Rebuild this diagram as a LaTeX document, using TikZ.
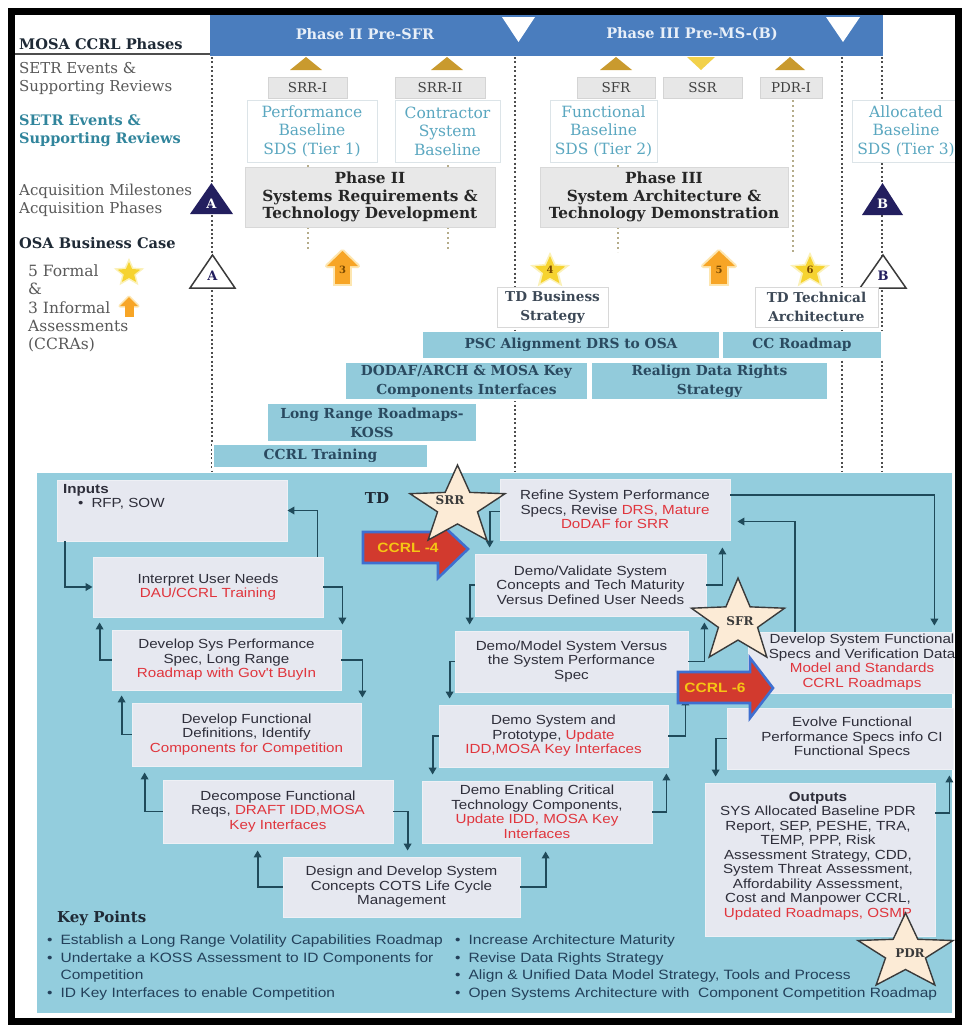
\documentclass[tikz,border=0pt]{standalone}
\usepackage{fontspec}
\setmainfont{DejaVu Serif}
\newfontfamily\sansf[FakeStretch=1.15]{Liberation Sans}
\usetikzlibrary{arrows.meta,calc}
\definecolor{hdrblue}{HTML}{4A7DBE}
\definecolor{hdrtext}{HTML}{E8EFF8}
\definecolor{gold}{HTML}{C99A2E}
\definecolor{ssryel}{HTML}{F2D14A}
\definecolor{gboxf}{HTML}{E7E7E7}
\definecolor{gboxd}{HTML}{D4D4D4}
\definecolor{gtext}{HTML}{404040}
\definecolor{sdst}{HTML}{5AA7C0}
\definecolor{sdsd}{HTML}{DCE4E8}
\definecolor{tealb}{HTML}{31859C}
\definecolor{labgray}{HTML}{595959}
\definecolor{ttl}{HTML}{1F2A36}
\definecolor{navy}{HTML}{231F5F}
\definecolor{phf}{HTML}{E8E8E8}
\definecolor{phd}{HTML}{D8D8D8}
\definecolor{phtext}{HTML}{262626}
\definecolor{tdd}{HTML}{D8D8D8}
\definecolor{tdtext}{HTML}{3C4856}
\definecolor{barf}{HTML}{92CBDB}
\definecolor{bartxt}{HTML}{2A4A60}
\definecolor{bigblue}{HTML}{93CDDD}
\definecolor{boxf}{HTML}{E6E8F0}
\definecolor{boxd}{HTML}{EEF0F5}
\definecolor{connc}{HTML}{1F4A5A}
\definecolor{redt}{HTML}{E0353D}
\definecolor{dtext}{HTML}{2E2E3A}
\definecolor{starf}{HTML}{FCEBD6}
\definecolor{stard}{HTML}{3A3A3A}
\definecolor{kptxt}{HTML}{23405A}
\definecolor{vdgray}{HTML}{4D4D4D}
\definecolor{minvd}{HTML}{B5AC8A}
\definecolor{ccrlred}{HTML}{D23A2E}
\definecolor{ccrlblue}{HTML}{3F6FD0}
\definecolor{ccrlyel}{HTML}{F5C514}
\definecolor{orangemk}{HTML}{F7A526}
\definecolor{orangeglow}{HTML}{FDE6B0}
\definecolor{yelstar}{HTML}{F6D330}
\definecolor{yelglow}{HTML}{FBF1B8}
\definecolor{mknum}{HTML}{7A4A00}
\newcommand{\rd}[1]{\textcolor{redt}{#1}}
\newcommand{\drawstar}[6]{%
  \draw[#1] (#2,#3) +(270:#4 and #5)
    \foreach \k in {1,...,9} { -- +({270+36*\k}:{#4*(1-(1-#6)*mod(\k,2))} and {#5*(1-(1-#6)*mod(\k,2))}) } -- cycle;}
\tikzset{
 mainvd/.style={draw=vdgray, line width=2pt, dash pattern=on 2pt off 2.4pt},
 minorvd/.style={draw=minvd, line width=1.4pt, dash pattern=on 2pt off 3pt},
 hdrtxt/.style={font=\bfseries\fontsize{14.5}{16}\selectfont, text=hdrtext, inner sep=0pt},
 lab/.style={anchor=west, align=left, inner sep=0pt, font=\fontsize{15}{18}\selectfont, text=labgray},
 labt/.style={lab, font=\bfseries\fontsize{14.5}{18}\selectfont, text=tealb},
 labd/.style={lab, font=\bfseries\fontsize{14.6}{18}\selectfont, text=ttl},
 gbox/.style={fill=gboxf, draw=gboxd, line width=0.8pt, inner sep=0pt, minimum height=21, font=\fontsize{13.5}{15}\selectfont, text=gtext},
 sdsbox/.style={fill=white, draw=sdsd, line width=0.8pt, inner sep=0pt, minimum height=62, align=center, font=\fontsize{15.5}{18.5}\selectfont, text=sdst},
 phbox/.style={fill=phf, draw=phd, line width=0.8pt, inner sep=0pt, minimum height=60, align=center, font=\bfseries\fontsize{15.3}{17.5}\selectfont, text=phtext},
 mstxt/.style={font=\bfseries\fontsize{13}{15}\selectfont, inner sep=0pt},
 tdbox/.style={fill=white, draw=tdd, line width=0.8pt, inner sep=0pt, minimum height=40, align=center, font=\bfseries\fontsize{13.6}{19}\selectfont, text=tdtext},
 bar/.style={fill=barf, draw=white, line width=1.2pt, inner sep=0pt, align=center, font=\bfseries\fontsize{13.8}{19}\selectfont, text=bartxt},
 ibox/.style={fill=boxf, draw=boxd, line width=0.8pt, inner sep=0pt, align=center, font=\sansf\fontsize{13.2}{14.5}\selectfont, text=dtext},
 itext/.style={inner sep=0pt, align=center, font=\sansf\fontsize{13.2}{14.5}\selectfont, text=dtext},
 conn/.style={draw=connc, line width=1.8pt, -{Triangle[length=7pt,width=7.5pt]}},
 bigstarsty/.style={fill=starf, draw=stard, line width=1.4pt, line join=miter},
 startxt/.style={font=\bfseries\fontsize{12}{14}\selectfont, text=stard, inner sep=0pt},
 ccrl/.style={fill=ccrlred, draw=ccrlblue, line width=2.6pt, line join=miter},
 ccrltxt/.style={font=\sansf\bfseries\fontsize{13.5}{15}\selectfont, text=ccrlyel, inner sep=0pt},
 kp/.style={anchor=west, align=left, inner sep=0pt, font=\sansf\fontsize{13.5}{17.7}\selectfont, text=kptxt},
 mknumsty/.style={font=\bfseries\fontsize{10}{11}\selectfont, text=mknum, inner sep=0pt},
}
\begin{document}
\begin{tikzpicture}[x=1pt,y=-1pt]
\useasboundingbox (0,0) rectangle (962,1026);
\fill[white] (0,0) rectangle (962,1026);

% ---------- header ----------
\fill[hdrblue] (210,15) rectangle (883,56);
\node[hdrtxt] (ph2) at (365,34) {Phase II Pre-SFR};
\node[hdrtxt] (ph3) at (692,34) {Phase III Pre-MS-(B)};
\fill[white] (502,17) -- (535,17) -- (518.5,42) -- cycle;
\fill[white] (826,17) -- (860,17) -- (843,42) -- cycle;
\node[labd] (mosa) at (19,44) {MOSA CCRL Phases};
\draw[line width=1.6pt, vdgray] (14,54) -- (210,54);

% ---------- left labels ----------
\node[lab] (setr1) at (19,79) {SETR Events \&\\Supporting Reviews};
\node[labt] (setr2) at (19,131) {SETR Events \&\\Supporting Reviews};
\node[lab] (acq) at (19,200) {Acquisition Milestones\\Acquisition Phases};
\node[labd] (osa) at (19,243) {OSA Business Case};
\node[lab, font=\fontsize{15.5}{18.3}\selectfont] (assess) at (28,308.5) {5 Formal\\\&\\3 Informal\\Assessments\\(CCRAs)};

% ---------- dotted verticals ----------
\draw[mainvd] (212,57) -- (212,472);
\draw[mainvd] (515,57) -- (515,472);
\draw[mainvd] (842,57) -- (842,472);
\draw[mainvd] (882,57) -- (882,472);
\draw[minorvd] (308,160) -- (308,168);
\draw[minorvd] (308,227) -- (308,250);
\draw[minorvd] (448,160) -- (448,168);
\draw[minorvd] (448,227) -- (448,250);
\draw[minorvd] (618,160) -- (618,168);
\draw[minorvd] (618,227) -- (618,252);
\draw[minorvd] (793,100) -- (793,252);

% ---------- review triangles ----------
\fill[gold] (290,70) -- (322,70) -- (306,57) -- cycle;
\fill[gold] (431,70) -- (463,70) -- (447,57) -- cycle;
\fill[gold] (600,70) -- (632,70) -- (616,57) -- cycle;
\fill[ssryel] (687,57) -- (715,57) -- (701,70) -- cycle;
\fill[gold] (775,70) -- (805,70) -- (790,57) -- cycle;

% ---------- review boxes ----------
\node[gbox, minimum width=79] (srr1) at (307.5,88) {SRR-I};
\node[gbox, minimum width=90] (srr2) at (440,88) {SRR-II};
\node[gbox, minimum width=78] (sfr) at (616,88) {SFR};
\node[gbox, minimum width=79] (ssr) at (702.5,88) {SSR};
\node[gbox, minimum width=62] (pdr1) at (791,88) {PDR-I};

\node[sdsbox, minimum width=130] (perf) at (312,131) {Performance\\Baseline\\SDS (Tier 1)};
\node[sdsbox, minimum width=105] (contr) at (447.5,131) {Contractor\\System\\Baseline};
\node[sdsbox, minimum width=107] (func) at (603.5,131) {Functional\\Baseline\\SDS (Tier 2)};
\node[sdsbox, minimum width=108] (alloc) at (906,131) {Allocated\\Baseline\\SDS (Tier 3)};

\node[phbox, minimum width=250] (p2box) at (370,197) {Phase II\\Systems Requirements \&\\Technology Development};
\node[phbox, minimum width=248] (p3box) at (664,197) {Phase III\\System Architecture \&\\Technology Demonstration};

% ---------- milestones ----------
\fill[navy] (190,214) -- (233,214) -- (211.5,183) -- cycle;
\node[mstxt, text=white] (msA) at (211.5,204) {A};
\fill[navy] (862,215) -- (903,215) -- (882.5,183) -- cycle;
\node[mstxt, text=white] (msB) at (882.5,204) {B};
\draw[fill=white, draw=stard, line width=1.5pt, line join=miter] (190,288) -- (235,288) -- (212.5,255) -- cycle;
\node[mstxt, text=navy] (oA) at (212.5,276) {A};
\draw[fill=white, draw=stard, line width=1.5pt, line join=miter] (860,288) -- (906,288) -- (883,255) -- cycle;
\node[mstxt, text=navy] (oB) at (883,276) {B};

% ---------- assessment markers ----------
% legend
\drawstar{fill=yelglow, draw=none}{129}{273}{16}{15}{0.45}
\drawstar{fill=yelstar, draw=none}{129}{273}{12}{11}{0.45}
\draw[orangeglow, line width=3pt, fill=orangemk, line join=round] (120,306) -- (138,306) -- (129,297) -- cycle;
\fill[orangemk] (124.5,305) rectangle (133.5,317);
\fill[orangemk] (120,306) -- (138,306) -- (129,297) -- cycle;
% 3
\draw[orangeglow, line width=4pt, line join=round] (327,266) -- (358,266) -- (342.5,251) -- cycle;
\draw[orangeglow, line width=4pt] (335,266) rectangle (350,284);
\fill[orangemk] (327,266) -- (358,266) -- (342.5,251) -- cycle;
\fill[orangemk] (335,265) rectangle (350,284);
\node[mknumsty] (m3) at (342.5,270) {3};
% 5
\draw[orangeglow, line width=4pt, line join=round] (703,266) -- (735,266) -- (719,251) -- cycle;
\draw[orangeglow, line width=4pt] (711,266) rectangle (727,284);
\fill[orangemk] (703,266) -- (735,266) -- (719,251) -- cycle;
\fill[orangemk] (711,265) rectangle (727,284);
\node[mknumsty] (m5) at (719,270) {5};
% 4
\drawstar{fill=yelglow, draw=none}{550}{271}{21}{19}{0.45}
\drawstar{fill=yelstar, draw=none}{550}{271}{16}{15}{0.45}
\node[mknumsty] (m4) at (550,270) {4};
% 6
\drawstar{fill=yelglow, draw=none}{810}{271}{21}{19}{0.45}
\drawstar{fill=yelstar, draw=none}{810}{271}{16}{15}{0.45}
\node[mknumsty] (m6) at (810,270) {6};

% ---------- TD boxes ----------
\node[tdbox, minimum width=111] (tdbs) at (552.5,307) {TD Business\\Strategy};
\node[tdbox, minimum width=123] (tdta) at (816.5,307) {TD Technical\\Architecture};

% ---------- activity bars ----------
\node[bar, minimum width=298, minimum height=27] (psc) at (571,345) {PSC Alignment DRS to OSA};
\node[bar, minimum width=160, minimum height=27] (ccr) at (802,345) {CC Roadmap};
\node[bar, minimum width=243, minimum height=38] (dodaf) at (466.5,381) {DODAF/ARCH \& MOSA Key\\Components Interfaces};
\node[bar, minimum width=237, minimum height=38] (realign) at (709.5,381) {Realign Data Rights\\Strategy};
\node[bar, minimum width=210, minimum height=39] (lrr) at (372,422.5) {Long Range Roadmaps-\\KOSS};
\node[bar, minimum width=215, minimum height=23] (ccrlt) at (320.5,456) {CCRL Training};

% ---------- TD process area ----------
\fill[bigblue] (37,473) rectangle (952,1013);

% left column
\node[ibox, minimum width=230, minimum height=61] (inputs) at (172,510.5) {};
\node[itext, anchor=north west, align=left] (inputsT) at (63,484) {\textbf{Inputs}\\\hspace*{15pt}\textbullet\hspace{8pt}RFP, SOW};
\node[ibox, minimum width=230, minimum height=60] (interp) at (208,587) {Interpret User Needs\\\rd{DAU/CCRL Training}};
\node[ibox, minimum width=229, minimum height=60] (devsys) at (226.5,660) {Develop Sys Performance\\Spec,  Long Range\\\rd{Roadmap with Gov't BuyIn}};
\node[ibox, minimum width=229, minimum height=63] (devfun) at (246.5,734.5) {Develop Functional\\Definitions, Identify\\\rd{Components for Competition}};
\node[ibox, minimum width=230, minimum height=63] (decomp) at (278,811.5) {Decompose Functional\\Reqs, \rd{DRAFT IDD,MOSA}\\\rd{Key Interfaces}};
\node[ibox, minimum width=237, minimum height=60] (design) at (401.5,887) {Design and Develop System\\Concepts COTS Life Cycle\\Management};

% middle column
\node[ibox, minimum width=230, minimum height=61] (refine) at (615,509.5) {Refine System Performance\\Specs, Revise \rd{DRS, Mature}\\\rd{DoDAF for SRR}};
\node[ibox, minimum width=231, minimum height=62] (validate) at (590.5,585) {Demo/Validate System\\Concepts and Tech Maturity\\Versus Defined User Needs};
\node[ibox, minimum width=233, minimum height=61] (model) at (571.5,661.5) {Demo/Model System Versus\\the System Performance\\Spec};
\node[ibox, minimum width=229, minimum height=62] (proto) at (553.5,736) {Demo System and\\Prototype, \rd{Update}\\\rd{IDD,MOSA Key Interfaces}};
\node[ibox, minimum width=230, minimum height=62] (enabling) at (537,812) {Demo Enabling Critical\\Technology Components,\\\rd{Update IDD, MOSA Key}\\\rd{Interfaces}};

% right column
\node[ibox, minimum width=205, minimum height=61] (devsf) at (850.5,662.5) {};
\node[itext] (devsfT) at (862,662) {Develop System Functional\\Specs and Verification Data\\\rd{Model and Standards}\\\rd{CCRL Roadmaps}};
\node[ibox, minimum width=226, minimum height=61] (evolve) at (840,738.5) {};
\node[itext] (evolveT) at (852,738) {Evolve Functional\\Performance Specs info CI\\Functional Specs};
\node[ibox, minimum width=230, minimum height=153] (outputs) at (820,859.5) {};
\node[itext] (outputsT) at (818,856) {\textbf{Outputs}\\SYS Allocated Baseline PDR\\Report, SEP, PESHE, TRA,\\TEMP, PPP, Risk\\Assessment Strategy, CDD,\\System Threat Assessment,\\Affordability Assessment,\\Cost and Manpower CCRL,\\\rd{Updated Roadmaps, OSMP}};

% connectors left
\draw[conn] ($(inputs.south west)+(8,0)$) |- (interp.west);
\draw[conn] ($(interp.north east)+(-6,0)$) |- (inputs.east);
\draw[conn] (interp.east) -| ($(devsys.north east)+(1,-5)$);
\draw[conn] (devsys.west) -| ($(interp.south west)+(7,5)$);
\draw[conn] (devsys.east) -| ($(devfun.north east)+(1,-5)$);
\draw[conn] (devfun.west) -| ($(devsys.south west)+(10,5)$);
\draw[conn] (decomp.west) -| ($(devfun.south west)+(13,6)$);
\draw[conn] (decomp.east) -| ($(design.north west)+(125,-6)$);
\draw[conn] (design.west) -| ($(decomp.south west)+(95,7)$);
\draw[conn] (design.east) -| ($(enabling.south west)+(124,8)$);
% connectors middle
\draw[conn] (enabling.east) -| ($(proto.south east)+(-2,6)$);
\draw[conn] (proto.east) -| ($(model.south east)+(-3,6)$);
\draw[conn] (model.east) -| ($(validate.south east)+(-2,6)$);
\draw[conn] (validate.east) -| ($(refine.south east)+(-8,7)$);
\draw[conn] ($(refine.west)+(0,2)$) -| ($(validate.north west)+(15,-6)$);
\draw[conn] (validate.west) -| ($(model.north west)+(15,-6)$);
\draw[conn] (model.west) -| ($(proto.north west)+(11,-6)$);
\draw[conn] (proto.west) -| ($(enabling.north west)+(11,-6)$);
% connectors right
\draw[conn] ($(refine.north east)+(0,16)$) -| ($(devsf.north east)+(-19,-6)$);
\draw[conn] ($(devsf.north west)+(47,0)$) |- ($(refine.east)+(7,12)$);
\draw[conn] (evolve.west) -| ($(outputs.north west)+(11,-6)$);
\draw[conn] ($(outputs.north east)+(0,30)$) -| ($(evolve.south east)+(-4,6)$);

% TD label
\node[font=\bfseries\fontsize{15}{17}\selectfont, text=ttl, inner sep=0pt] (tdlab) at (377,498) {TD};

% CCRL arrows
\draw[ccrl] (363,532) -- (438,532) -- (438,521) -- (468,549) -- (438,578) -- (438,563) -- (363,563) -- cycle;
\node[ccrltxt] (c4) at (408,548) {CCRL -4};
\draw[ccrl] (678,672) -- (750,672) -- (750,658) -- (773,688) -- (750,718) -- (750,703) -- (678,703) -- cycle;
\node[ccrltxt] (c6) at (715,688) {CCRL -6};

% review stars
\drawstar{bigstarsty}{457.5}{506.5}{50}{41.5}{0.42}
\node[startxt] (srrT) at (450,500) {SRR};
\drawstar{bigstarsty}{738}{621.7}{49}{43.7}{0.42}
\node[startxt] (sfrT) at (740,621) {SFR};
\drawstar{bigstarsty}{905.5}{952.8}{50}{39.8}{0.42}
\node[startxt] (pdrT) at (910,953) {PDR};

% Key points
\node[font=\bfseries\fontsize{15}{17}\selectfont, text=ttl, anchor=west, inner sep=0pt] (kph) at (57,918) {Key Points};
\node[kp] (kpl) at (47,967.5) {\textbullet\hspace{8pt}Establish a Long Range Volatility Capabilities Roadmap\\\textbullet\hspace{8pt}Undertake a KOSS Assessment to ID Components for\\\phantom{\textbullet}\hspace{8pt}Competition\\\textbullet\hspace{8pt}ID Key Interfaces to enable Competition};
\node[kp] (kpr) at (455,967.5) {\textbullet\hspace{8pt}Increase Architecture Maturity\\\textbullet\hspace{8pt}Revise Data Rights Strategy\\\textbullet\hspace{8pt}Align \& Unified Data Model Strategy, Tools and Process\\\textbullet\hspace{8pt}Open Systems Architecture with~ Component Competition Roadmap};

% outer frame
\draw[line width=7pt] (11.5,11) rectangle (958,1021);
\end{tikzpicture}
\end{document}
